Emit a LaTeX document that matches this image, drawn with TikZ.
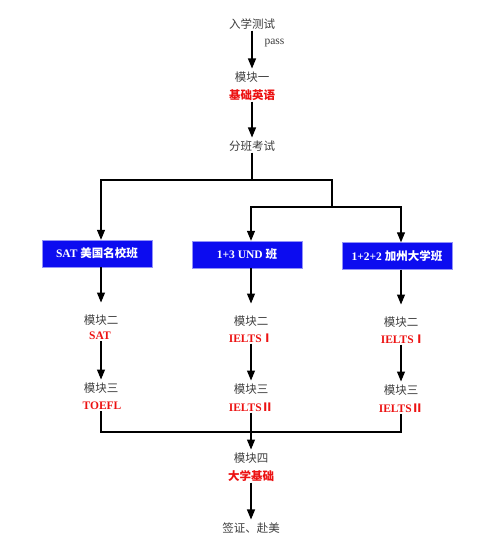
\documentclass[tikz,border=0pt]{standalone}
\usepackage{fontspec}
\setmainfont{Liberation Serif}
\newfontfamily\cjk{Noto Sans CJK SC}
\usepackage{xcolor}
\definecolor{boxblue}{RGB}{12,12,240}
\definecolor{modred}{RGB}{236,18,18}
\definecolor{labgray}{RGB}{60,60,60}
\usetikzlibrary{arrows.meta}

\tikzset{
  flow/.style={-{Triangle[length=10pt,width=8pt]}, line width=1.1pt, shorten >=2pt},
  link/.style={line width=1.1pt},
  step label/.style={font=\fontsize{11.5}{13}\selectfont\cjk, text=labgray, inner sep=1pt},
  course/.style={font=\fontsize{11.5}{13}\selectfont\bfseries, text=modred, inner sep=1pt},
  classbox/.style={fill=boxblue, draw=boxblue!45, minimum width=110pt, minimum height=27pt,
    font=\fontsize{11.5}{13}\selectfont\bfseries, text=white, inner sep=0pt},
}

\begin{document}
\begin{tikzpicture}[x=1pt,y=-1pt]
  \useasboundingbox (0,0) rectangle (491,551);

  % --- top: entry test and module one ---
  \node[step label] (entry) at (252,24) {入学测试};
  \node[font=\fontsize{11.5}{13}\selectfont, text=labgray, anchor=west] (pass) at (261,43) {pass};
  \node[step label] (m1) at (252,77) {模块一};
  \node[course] (m1c) at (252,95) {\cjk 基础英语};
  \node[step label] (placement) at (252,146) {分班考试};

  \draw[flow] (entry.south) -- (m1.north);
  \draw[flow] (m1c.south) -- (placement.north);

  % --- class boxes ---
  \node[classbox] (sat) at (97,253.5) {SAT {\cjk 美国名校班}};
  \node[classbox] (und) at (247,254.5) {1+3 UND {\cjk 班}};
  \node[classbox] (cal) at (397,256) {1+2+2 {\cjk 加州大学班}};

  % --- left column ---
  \node[step label] (l2) at (101,320) {模块二};
  \node[course] (l2c) at (100,336) {SAT};
  \node[step label] (l3) at (101,388) {模块三};
  \node[course] (l3c) at (102,406) {TOEFL};

  % --- middle column ---
  \node[step label] (c2) at (251,321) {模块二};
  \node[course] (c2c) at (251,338) {IELTS{\cjk Ⅰ}};
  \node[step label] (c3) at (251,389) {模块三};
  \node[course] (c3c) at (251,407) {IELTS{\cjk Ⅱ}};

  % --- right column ---
  \node[step label] (r2) at (401,322) {模块二};
  \node[course] (r2c) at (403,339) {IELTS{\cjk Ⅰ}};
  \node[step label] (r3) at (401,390) {模块三};
  \node[course] (r3c) at (401,408) {IELTS{\cjk Ⅱ}};

  % --- module four and end ---
  \node[step label] (m4) at (251,458) {模块四};
  \node[course] (m4c) at (251,476) {\cjk 大学基础};
  \node[step label] (visa) at (251,528) {签证、赴美};

  % split after placement test
  \coordinate (split) at (252,180);
  \coordinate (splitR) at (332,180);
  \coordinate (fork) at (332,207);
  \draw[link] (placement.south) -- (split);
  \draw[flow, shorten >=0pt] (split) -| (sat.north -| l2);
  \draw[link] (split) -- (splitR) -- (fork);
  \draw[flow, shorten >=0pt] (fork) -| (und.north -| c2);
  \draw[flow, shorten >=0pt] (fork) -| (cal.north -| r2);

  % boxes to module two
  \draw[flow, shorten >=11pt] (sat.south -| l2) -- (l2.north);
  \draw[flow, shorten >=11pt] (und.south -| c2) -- (c2.north);
  \draw[flow, shorten >=11pt] (cal.south -| r2) -- (r2.north);

  % module two to module three
  \draw[flow] (l2c.south -| l2) -- (l3.north);
  \draw[flow] (c2c.south -| c2) -- (c3.north);
  \draw[flow] (r2c.south -| r2) -- (r3.north);

  % merge into module four
  \coordinate (merge) at (251,432);
  \draw[link] (l3c.south -| l3) |- (merge) -| (r3c.south -| r3);
  \draw[flow] (c3c.south -| c3) -- (m4.north);
  \draw[flow] (m4c.south) -- (visa.north);
\end{tikzpicture}
\end{document}
